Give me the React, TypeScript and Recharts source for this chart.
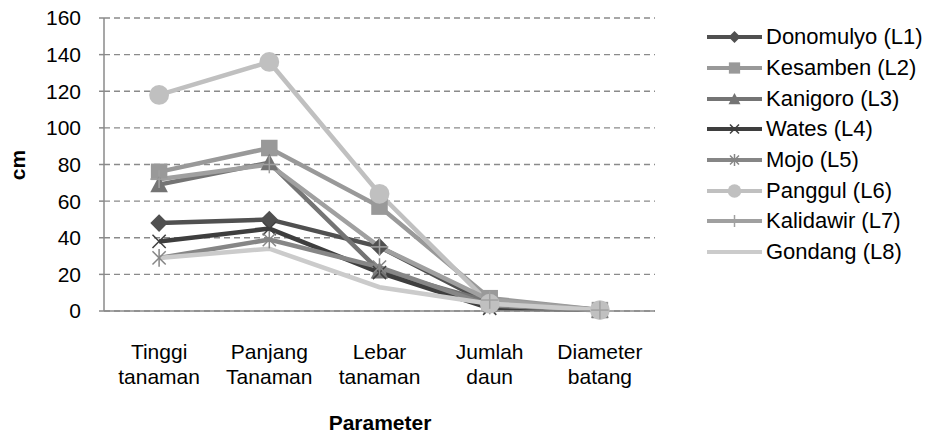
import React from "react";
import { CartesianGrid, Line, LineChart, XAxis, YAxis } from "recharts";

const categories = ["Tinggi tanaman", "Panjang Tanaman", "Lebar tanaman", "Jumlah daun", "Diameter batang"];
const donomulyo = [48, 50, 35, 4, 0.5];
const kesamben = [76, 89, 57, 7, 0.5];
const kanigoro = [69, 81, 22, 5, 0.5];
const wates = [38, 45, 21, 1.5, 0.5];
const mojo = [29, 39, 24, 3, 0.5];
const panggul = [118, 136, 64, 4, 0.5];
const kalidawir = [72, 80, 35, 6, 0.5];
const gondang = [29, 34, 13, 4, 0.5];
const yTicks = [0, 20, 40, 60, 80, 100, 120, 140, 160];

type Shape = "diamond" | "square" | "triangle" | "x" | "star" | "circle" | "plus" | "none";

const series: { key: string; name: string; values: number[]; color: string; shape: Shape }[] = [
  { key: "l1", name: "Donomulyo (L1)", values: donomulyo, color: "#505050", shape: "diamond" },
  { key: "l2", name: "Kesamben (L2)", values: kesamben, color: "#999999", shape: "square" },
  { key: "l3", name: "Kanigoro (L3)", values: kanigoro, color: "#747474", shape: "triangle" },
  { key: "l4", name: "Wates (L4)", values: wates, color: "#3e3e3e", shape: "x" },
  { key: "l5", name: "Mojo (L5)", values: mojo, color: "#868686", shape: "star" },
  { key: "l6", name: "Panggul (L6)", values: panggul, color: "#c0c0c0", shape: "circle" },
  { key: "l7", name: "Kalidawir (L7)", values: kalidawir, color: "#a0a0a0", shape: "plus" },
  { key: "l8", name: "Gondang (L8)", values: gondang, color: "#cbcbcb", shape: "none" },
];

const data = categories.map((cat, i) => {
  const row: Record<string, string | number> = { cat };
  series.forEach((s) => (row[s.key] = s.values[i]));
  return row;
});

const font = "'Liberation Sans', Arial, sans-serif";

function Marker({ cx, cy, shape, color, small }: { cx: number; cy: number; shape: Shape; color: string; small?: boolean }) {
  const k = small ? 0.75 : 1.1;
  switch (shape) {
    case "diamond":
      return <polygon points={`${cx},${cy - 8 * k} ${cx + 8 * k},${cy} ${cx},${cy + 8 * k} ${cx - 8 * k},${cy}`} fill={color} />;
    case "square":
      return <rect x={cx - 7.5 * k} y={cy - 7.5 * k} width={15 * k} height={15 * k} fill={color} />;
    case "triangle":
      return <polygon points={`${cx},${cy - 8 * k} ${cx + 8 * k},${cy + 7 * k} ${cx - 8 * k},${cy + 7 * k}`} fill={color} />;
    case "x":
      return (
        <g stroke={color} strokeWidth={1.5}>
          <line x1={cx - 6 * k} y1={cy - 6 * k} x2={cx + 6 * k} y2={cy + 6 * k} />
          <line x1={cx - 6 * k} y1={cy + 6 * k} x2={cx + 6 * k} y2={cy - 6 * k} />
        </g>
      );
    case "star":
      return (
        <g stroke={color} strokeWidth={1.5}>
          <line x1={cx - 6 * k} y1={cy - 6 * k} x2={cx + 6 * k} y2={cy + 6 * k} />
          <line x1={cx - 6 * k} y1={cy + 6 * k} x2={cx + 6 * k} y2={cy - 6 * k} />
          <line x1={cx} y1={cy - 8 * k} x2={cx} y2={cy + 8 * k} />
        </g>
      );
    case "circle":
      return <circle cx={cx} cy={cy} r={9 * k} fill={color} />;
    case "plus":
      return (
        <g stroke={color} strokeWidth={1.5}>
          <line x1={cx} y1={cy - 8 * k} x2={cx} y2={cy + 8 * k} />
          <line x1={cx - 8 * k} y1={cy} x2={cx + 8 * k} y2={cy} />
        </g>
      );
    default:
      return <g />;
  }
}

const dotFor = (shape: Shape, color: string) => (props: any) =>
  <Marker key={`${shape}-${props.index}`} cx={props.cx} cy={props.cy} shape={shape} color={color} />;

function XTick({ x, y, payload }: any) {
  const words = String(payload.value).split(" ");
  return (
    <text x={x} y={y} textAnchor="middle" fill="#000" fontSize={21} fontFamily={font}>
      {words.map((w, i) => (
        <tspan key={i} x={x} y={y + 40 + i * 25}>
          {w}
        </tspan>
      ))}
    </text>
  );
}

function SeriesLegend() {
  return (
    <div style={{ position: "absolute", left: 705, top: 22, fontFamily: font, fontSize: 22, color: "#000" }}>
      {series.map((s) => (
        <div key={s.key} style={{ display: "flex", alignItems: "center", height: 30.7 }}>
          <svg width={61} height={20} style={{ display: "block" }}>
            <line x1={2} y1={10} x2={57} y2={10} stroke={s.color} strokeWidth={4} />
            <Marker cx={29.5} cy={10} shape={s.shape} color={s.color} small />
          </svg>
          <span style={{ whiteSpace: "nowrap", lineHeight: "22px" }}>{s.name}</span>
        </div>
      ))}
    </div>
  );
}

export default function App() {
  return (
    <div style={{ position: "absolute", left: 0, top: 0, width: 947, height: 434, background: "#fff", fontFamily: font }}>
      <LineChart width={947} height={434} data={data} margin={{ top: 18, right: 292, bottom: 0, left: 0 }}>
        <CartesianGrid vertical={false} stroke="#8a8a8a" strokeDasharray="6 4" strokeWidth={1.3} />
        <XAxis
          dataKey="cat"
          scale="band"
          height={123}
          axisLine={{ stroke: "#8a8a8a", strokeWidth: 1.5 }}
          tickLine={false}
          tick={<XTick />}
          interval={0}
          label={{
            content: () => (
              <text x={380} y={430} textAnchor="middle" fontSize={21} fontWeight="bold" fontFamily={font} fill="#000">
                Parameter
              </text>
            ),
          }}
        />
        <YAxis
          width={104}
          domain={[0, 160]}
          ticks={yTicks}
          interval={0}
          axisLine={{ stroke: "#8a8a8a", strokeWidth: 1.5 }}
          tickLine={{ stroke: "#8a8a8a", strokeWidth: 1.5 }}
          tickSize={5}
          tickMargin={18}
          tick={{ fill: "#000", fontSize: 21, fontFamily: font }}
          label={{
            content: () => (
              <text x={25} y={165} transform="rotate(-90 25 165)" textAnchor="middle" fontSize={21} fontWeight="bold" fontFamily={font} fill="#000">
                cm
              </text>
            ),
          }}
        />
        {series.map((s) => (
          <Line
            key={s.key}
            type="linear"
            dataKey={s.key}
            name={s.name}
            stroke={s.color}
            strokeWidth={4.5}
            dot={dotFor(s.shape, s.color)}
            activeDot={false}
            isAnimationActive={false}
          />
        ))}
      </LineChart>
      <SeriesLegend />
    </div>
  );
}
